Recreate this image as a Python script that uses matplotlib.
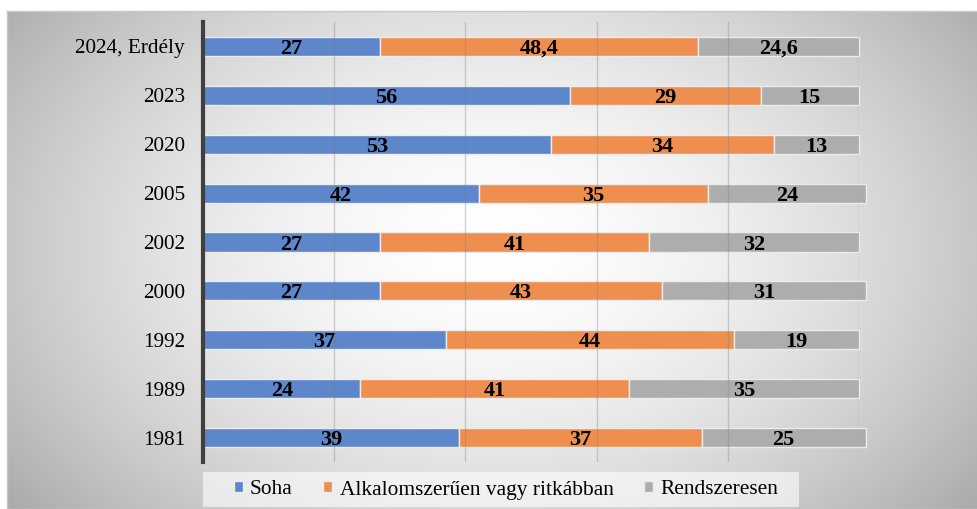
import matplotlib.pyplot as plt
import matplotlib.patches as mpatches
import numpy as np

years = ['1981', '1989', '1992', '2000', '2002', '2005', '2020', '2023', '2024, Erdély']
soha = [39, 24, 37, 27, 27, 42, 53, 56, 27]
alkalom = [37, 41, 44, 43, 41, 35, 34, 29, 48.4]
rendszeres = [25, 35, 19, 31, 32, 24, 13, 15, 24.6]
series_names = ['Soha', 'Alkalomszerűen vagy ritkábban', 'Rendszeresen']
colors = ['#5e86cb', '#ee8f50', '#adadad']

plt.rcParams['font.family'] = ['Liberation Serif', 'DejaVu Serif']

fig = plt.figure(figsize=(9.78, 5.09), dpi=100)

# grey radial gradient behind the chart
bg = fig.add_axes([7 / 978, 0, 1 - 7 / 978, 1 - 11 / 509])
gx, gy = np.meshgrid(np.linspace(-1, 1, 400), np.linspace(-1, 1, 200))
r = np.sqrt(((gx - 0.0) / 1.05) ** 2 + ((gy + 0.05) / 1.4) ** 2)
shade = 1 - 0.24 * np.clip(r, 0, 1.2) ** 1.7
bg.imshow(np.dstack([shade] * 3), aspect='auto', extent=[0, 1, 0, 1])
bg.set_xticks([])
bg.set_yticks([])
for s in bg.spines.values():
    s.set_color('#c8c8c8')
    s.set_linewidth(1)

ax = fig.add_axes([203 / 978, 1 - 462 / 509, (859 - 203) / 978, 440 / 509])
ax.patch.set_alpha(0)

y = np.arange(len(years))
left = np.zeros(len(years))
for vals, name, c in zip([soha, alkalom, rendszeres], series_names, colors):
    vals = np.array(vals, dtype=float)
    ax.barh(y, vals, left=left, height=0.39, color=c, edgecolor='#ececec',
            linewidth=1, label=name, clip_on=False, zorder=2)
    for yi, l, v in zip(y, left, vals):
        txt = ('%g' % v).replace('.', ',')
        ax.text(l + v / 2, yi, txt, ha='center', va='center_baseline', fontsize=16,
                fontweight='bold', color='black', zorder=4)
    left += vals

ax.set_xlim(0, 100)
ax.set_ylim(-0.5, len(years) - 0.5)
ax.set_xticks([0, 20, 40, 60, 80, 100])
ax.set_xticklabels([])
ax.tick_params(axis='x', length=0)
ax.set_axisbelow(False)
ax.grid(axis='x', color='#808080', alpha=0.35, linewidth=1)
ax.set_yticks(y)
ax.set_yticklabels(years, fontsize=15.3)
ax.tick_params(axis='y', length=0, pad=13)
for s in ['top', 'right', 'bottom']:
    ax.spines[s].set_visible(False)
ax.spines['left'].set_color('#404040')
ax.spines['left'].set_linewidth(3)
ax.spines['left'].set_zorder(5)

# light box behind the legend
fig.patches.append(mpatches.Rectangle((203 / 978, 1 - 507 / 509), (799 - 203) / 978, 35 / 509,
                                      transform=fig.transFigure, facecolor='white',
                                      alpha=0.6, edgecolor='none', zorder=1))
leg = fig.legend(loc='center', bbox_to_anchor=(506 / 978, 1 - 490 / 509), ncol=3,
                 fontsize=15.4, frameon=False, handlelength=0.42,
                 handleheight=0.42, handletextpad=0.33, columnspacing=1.45,
                 borderpad=0, borderaxespad=0)

fig.savefig('out.png', dpi=100)
